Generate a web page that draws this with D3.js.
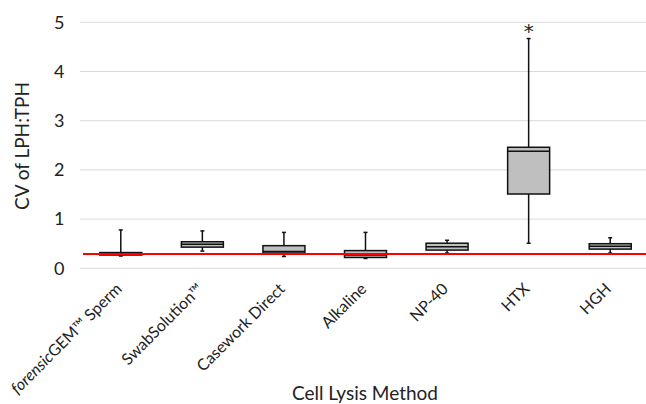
<!DOCTYPE html>
<html>
<head>
<meta charset="utf-8">
<script src="https://cdn.jsdelivr.net/npm/d3@7"></script>
<style>
  html, body { margin: 0; padding: 0; background: #fff; }
  svg { display: block; font-family: Lato, "Open Sans", sans-serif; }
</style>
</head>
<body>
<svg id="chart" width="646" height="404"></svg>
<script>
// values
var categories = ['forensicGEM™ Sperm', 'SwabSolution™', 'Casework Direct', 'Alkaline', 'NP-40', 'HTX', 'HGH']
var whiskerLow = [0.25, 0.35, 0.24, 0.20, 0.31, 0.51, 0.31]
var q1 = [0.27, 0.43, 0.31, 0.22, 0.37, 1.51, 0.39]
var median = [0.29, 0.49, 0.34, 0.27, 0.44, 2.38, 0.45]
var q3 = [0.32, 0.54, 0.46, 0.36, 0.51, 2.46, 0.50]
var whiskerHigh = [0.78, 0.76, 0.73, 0.73, 0.57, 4.67, 0.62]
var marks = ['', '', '', '', '', '*', '']
var referenceLine = 0.29
var yTicks = [0, 1, 2, 3, 4, 5]

var svg = d3.select('#chart')
var plotLeft = 80, plotRight = 651, plotTop = 22.3, plotBottom = 268.3

var x = d3.scaleBand().domain(categories).range([plotLeft, plotRight]).paddingInner(0).paddingOuter(0)
var y = d3.scaleLinear().domain([0, 5]).range([plotBottom, plotTop])
var boxW = 42, capW = 4

// gridlines
svg.append('g').selectAll('line').data(yTicks).join('line')
  .attr('x1', plotLeft).attr('x2', 646)
  .attr('y1', d => y(d)).attr('y2', d => y(d))
  .attr('stroke', '#d9d9d9').attr('stroke-width', 1)

// y axis labels
var yAxis = svg.append('g').attr('transform', 'translate(' + (plotLeft - 18) + ',0)')
  .call(d3.axisLeft(y).tickValues(yTicks).tickSize(0).tickPadding(0).tickFormat(d3.format('d')))
yAxis.select('.domain').remove()
yAxis.selectAll('text').attr('font-size', 18).attr('fill', '#222').attr('font-family', 'Lato, sans-serif')
  .attr('text-anchor', 'middle').attr('dx', '-0.15em')

// boxes
var rows = categories.map((c, i) => ({c: c, lo: whiskerLow[i], q1: q1[i], med: median[i], q3: q3[i], hi: whiskerHigh[i], mark: marks[i]}))
var g = svg.append('g').selectAll('g').data(rows).join('g')
  .attr('transform', d => 'translate(' + (x(d.c) + x.bandwidth() / 2) + ',0)')

g.append('line').attr('x1', 0).attr('x2', 0).attr('y1', d => y(d.hi)).attr('y2', d => y(d.q3))
  .attr('stroke', '#111').attr('stroke-width', 1.5)
g.append('line').attr('x1', 0).attr('x2', 0).attr('y1', d => y(d.q1)).attr('y2', d => y(d.lo))
  .attr('stroke', '#111').attr('stroke-width', 1.5)
g.append('line').attr('x1', -capW / 2).attr('x2', capW / 2).attr('y1', d => y(d.hi)).attr('y2', d => y(d.hi))
  .attr('stroke', '#111').attr('stroke-width', 1.5)
g.append('line').attr('x1', -capW / 2).attr('x2', capW / 2).attr('y1', d => y(d.lo)).attr('y2', d => y(d.lo))
  .attr('stroke', '#111').attr('stroke-width', 1.5)
g.append('rect').attr('x', -boxW / 2).attr('width', boxW)
  .attr('y', d => y(d.q3)).attr('height', d => y(d.q1) - y(d.q3))
  .attr('fill', '#bfbfbf').attr('stroke', '#111').attr('stroke-width', 1.5)
g.append('line').attr('x1', -boxW / 2).attr('x2', boxW / 2).attr('y1', d => y(d.med)).attr('y2', d => y(d.med))
  .attr('stroke', '#111').attr('stroke-width', 1.5)
g.append('text').text(d => d.mark).attr('x', 0).attr('y', d => y(d.hi) - 1)
  .attr('text-anchor', 'middle').attr('font-size', 20).attr('fill', '#222')
  .attr('font-family', 'DejaVu Sans, sans-serif')

// reference line on top of the boxes
svg.append('line').attr('x1', plotLeft + 3).attr('x2', 646)
  .attr('y1', y(referenceLine)).attr('y2', y(referenceLine))
  .attr('stroke', '#ff0000').attr('stroke-width', 2)

// x labels, rotated
var xl = svg.append('g').selectAll('text').data(categories).join('text')
  .attr('transform', d => 'translate(' + (x(d) + x.bandwidth() / 2 - 6) + ',' + 282 + ') rotate(-45)')
  .attr('text-anchor', 'end').attr('dy', '0.7em')
  .attr('font-size', 16).attr('fill', '#222')
xl.each(function (d) {
  var t = d3.select(this)
  if (d.indexOf('forensic') === 0) {
    t.append('tspan').attr('font-style', 'italic').text('forensic')
    t.append('tspan').text(d.slice(8))
  } else {
    t.text(d)
  }
})

// axis titles
svg.append('text').text('Cell Lysis Method')
  .attr('x', 365).attr('y', 400).attr('text-anchor', 'middle')
  .attr('font-size', 19).attr('fill', '#222')
svg.append('text').text('CV of LPH:TPH')
  .attr('transform', 'translate(29,146) rotate(-90)').attr('text-anchor', 'middle')
  .attr('font-size', 19).attr('fill', '#222')
</script>
</body>
</html>
